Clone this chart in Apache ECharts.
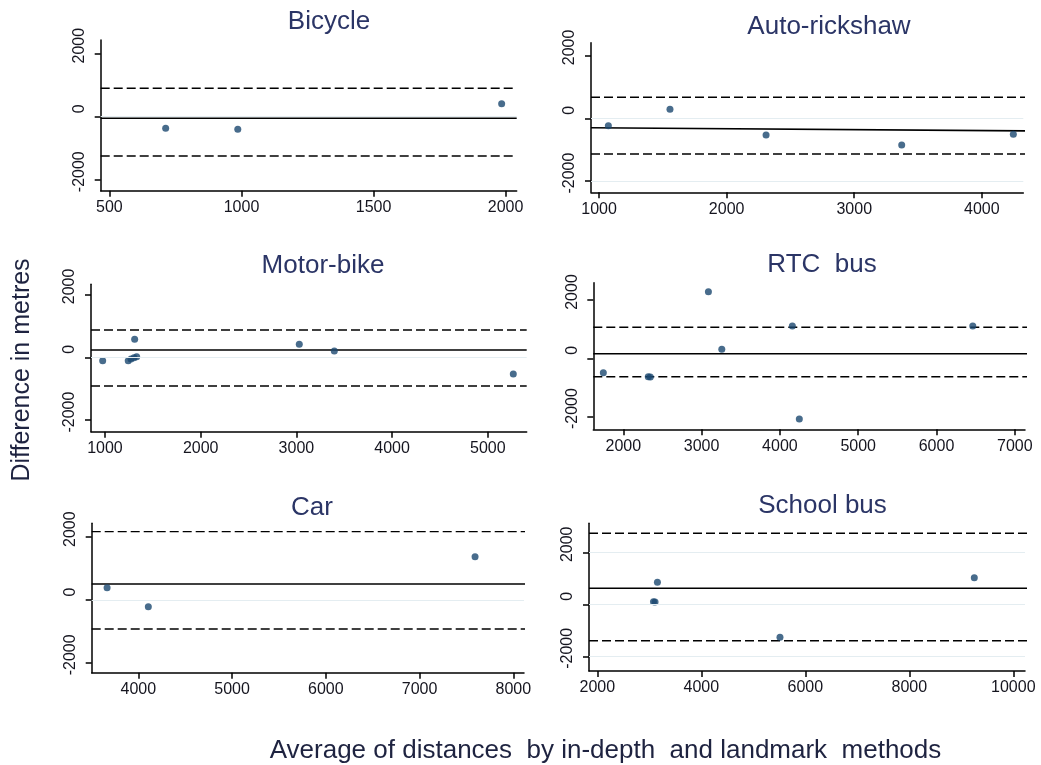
<!DOCTYPE html>
<html><head><meta charset="utf-8">
<script src="https://cdn.jsdelivr.net/npm/echarts@6/dist/echarts.min.js"></script>
<style>html,body{margin:0;padding:0;background:#fff}#c{width:1041px;height:765px}</style>
</head><body><div id="c"></div>
<script>
// ---- data ----
const panelTitles = ['Bicycle', 'Auto-rickshaw', 'Motor-bike', 'RTC  bus', 'Car', 'School bus'];

const bicycleX = [713, 986, 1985];
const bicycleY = [-368, -400, 413];
const autoX = [1073, 1556, 2309, 3372, 4247];
const autoY = [-236, 287, -532, -850, -510];
const motorX = [976, 1243, 1272, 1303, 1310, 1331, 3030, 3396, 5266];
const motorY = [-108, -108, -54, -13, 573, 19, 414, 201, -532];
const rtcX = [1745, 2319, 2345, 3087, 3258, 4159, 4248, 6463];
const rtcY = [-494, -631, -640, 2285, 309, 1108, -2082, 1108];
const carX = [3667, 4107, 7592];
const carY = [392, -213, 1379];
const schoolX = [3080, 3110, 3156, 5513, 9250];
const schoolY = [100, 90, 846, -1269, 1023];

// reference lines: [mean at left end, mean at right end, upper limit, lower limit]
const bicycleLines = [-51, -51, 901, -1248];
const autoLines = [-300, -405, 669, -1137];
const motorLines = [232, 232, 869, -914];
const rtcLines = [158, 158, 1063, -631];
const carLines = [510, 510, 2175, -924];
const schoolLines = [615, 615, 2731, -1400];

// axis extents
const xRanges = [[467, 2042], [937, 4325], [854, 5406], [1617, 7130], [3503, 8114], [1840, 10225]];
const yRanges = [[-2349, 2435], [-2357, 2406], [-2368, 2323], [-2436, 2593], [-2313, 2441], [-2565, 3115]];
// where the reference lines stop (they run a little past the x axis end)
const lineXEnd = [2042, 4464, 5406, 7334, 8178, 10533];

// tick labels
const xTicks = [
  [500, 1000, 1500, 2000],
  [1000, 2000, 3000, 4000],
  [1000, 2000, 3000, 4000, 5000],
  [2000, 3000, 4000, 5000, 6000, 7000],
  [4000, 5000, 6000, 7000, 8000],
  [2000, 4000, 6000, 8000, 10000]
];
const yTicks = [-2000, 0, 2000];
const faintGrid = [[0], [0, -2000], [0], [], [0], [2000, 0, -2000]];

const xTitle = 'Average of distances  by in-depth  and landmark  methods';
const yTitle = 'Difference in metres';

// ---- layout ----
const grids = [
  {left: 100.7, top: 40, width: 416, height: 150.7},
  {left: 591, top: 42.7, width: 432.3, height: 149.6},
  {left: 91, top: 284.3, width: 435.7, height: 147.4},
  {left: 593.3, top: 282.7, width: 431.7, height: 146.6},
  {left: 91.7, top: 523.3, width: 432.3, height: 149.4},
  {left: 589, top: 523.3, width: 436, height: 147.7}
];
const titlePos = [[329, 22], [829, 26.5], [323, 265.5], [822, 264.5], [312, 508], [822.5, 506]];

const xs = [bicycleX, autoX, motorX, rtcX, carX, schoolX];
const ys = [bicycleY, autoY, motorY, rtcY, carY, schoolY];
const lines = [bicycleLines, autoLines, motorLines, rtcLines, carLines, schoolLines];

const FONT = 'Liberation Sans, Arial, sans-serif';
const axisLineStyle = {color: '#000', width: 1.5};
const plain = v => String(v);

const series = [];
grids.forEach((g, i) => {
  const x0 = xRanges[i][0], x1 = lineXEnd[i];
  const L = lines[i];
  const refLine = (a, b, style) => ({
    type: 'line', xAxisIndex: i, yAxisIndex: i, clip: false, silent: true,
    symbol: 'none', lineStyle: style, z: 1,
    data: [[x0, a], [x1, b]]
  });
  series.push({
    type: 'line', xAxisIndex: i, yAxisIndex: i, symbol: 'none', silent: true, data: [],
    markLine: {
      silent: true, symbol: 'none', animation: false, label: {show: false},
      data: faintGrid[i].map(v => ({yAxis: v, lineStyle: {color: '#e4edf1', width: 1, type: 'solid'}}))
    }
  });
  series.push(refLine(L[0], L[1], {color: '#000', width: 1.6, type: 'solid'}));
  series.push(refLine(L[2], L[2], {color: '#000', width: 1.4, type: [9, 4]}));
  series.push(refLine(L[3], L[3], {color: '#000', width: 1.4, type: [9, 4]}));
  series.push({
    type: 'scatter', xAxisIndex: i, yAxisIndex: i, z: 3,
    symbol: 'circle', symbolSize: 7,
    itemStyle: {color: '#1a476f'},
    data: xs[i].map((x, k) => [x, ys[i][k]])
  });
});

const option = {
  animation: false,
  backgroundColor: '#fff',
  grid: grids.map(g => Object.assign({containLabel: false}, g)),
  xAxis: grids.map((g, i) => ({
    type: 'value', gridIndex: i,
    min: xRanges[i][0], max: xRanges[i][1],
    axisLine: {show: true, onZero: false, lineStyle: axisLineStyle},
    axisTick: {show: true, length: 6, lineStyle: axisLineStyle, customValues: xTicks[i]},
    axisLabel: {customValues: xTicks[i], formatter: plain, margin: 9, fontSize: 16, fontFamily: FONT, color: '#15151f'},
    splitLine: {show: false}
  })),
  yAxis: grids.map((g, i) => ({
    type: 'value', gridIndex: i,
    min: yRanges[i][0], max: yRanges[i][1],
    axisLine: {show: true, onZero: false, lineStyle: axisLineStyle},
    axisTick: {show: true, length: 6, lineStyle: axisLineStyle, customValues: yTicks},
    axisLabel: {customValues: yTicks, formatter: plain, rotate: 90, margin: 13, fontSize: 16, fontFamily: FONT,
      color: '#15151f', padding: [0, 0, 0, 16]},
    splitLine: {show: false}
  })),
  series: series,
  graphic: [
    ...panelTitles.map((t, i) => ({
      type: 'text', x: titlePos[i][0], y: titlePos[i][1],
      style: {text: t, fontSize: 26, fontFamily: FONT, fill: '#2b3566', textAlign: 'center', textVerticalAlign: 'middle'}
    })),
    {type: 'text', x: 605.5, y: 750.5,
      style: {text: xTitle, fontSize: 26, fontFamily: FONT, fill: '#1e2340', textAlign: 'center', textVerticalAlign: 'middle'}},
    {type: 'text', x: 22.5, y: 370, rotation: Math.PI / 2,
      style: {text: yTitle, fontSize: 25, fontFamily: FONT, fill: '#1e2340', textAlign: 'center', textVerticalAlign: 'middle'}}
  ]
};

const chart = echarts.init(document.getElementById('c'), null, {renderer: 'canvas'});
chart.setOption(option);
</script>
</body></html>
